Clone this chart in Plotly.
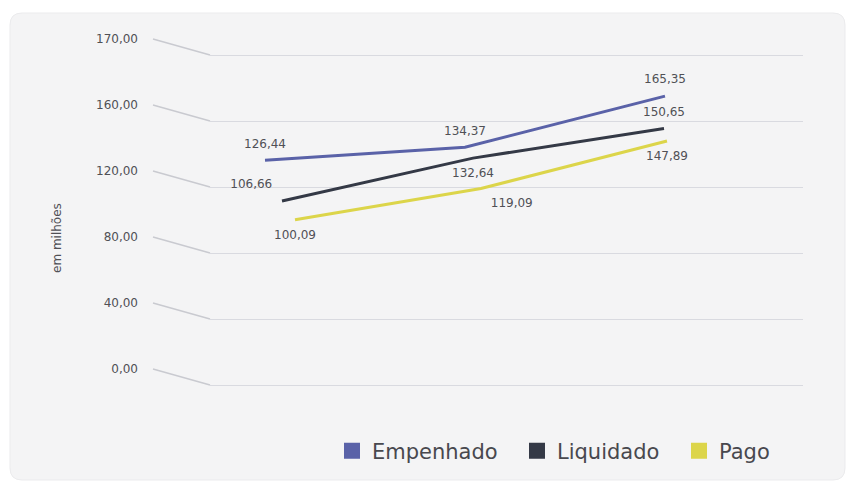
import plotly.graph_objects as go

# ---- data ----
categories = ["1", "2", "3"]
empenhado = [126.44, 134.37, 165.35]
liquidado = [106.66, 132.64, 150.65]
pago = [100.09, 119.09, 147.89]
series_names = ["Empenhado", "Liquidado", "Pago"]
tick_values = [0, 40, 80, 120, 160, 200]
tick_labels = ["0,00", "40,00", "80,00", "120,00", "160,00", "170,00"]
y_title = "em milhões"

# ---- style / layout ----
W, H = 855, 484
OFF = 8  # page body margin
colors = ["#5a62a8", "#343946", "#dcd54a"]
FONT = "DejaVu Sans"
TXT = "#505055"

# back wall pixel geometry (screen pixels)
wall_bottom_px, wall_top_px = 385, 55
wall_left_px, wall_right_px = 210, 803
front_px = 153
depth_px = [16, 8, 0]            # 3D depth of each series (front -> back)
first_px = [265, 282, 295]       # x pixel of first category per series
last_px = [665, 664, 667]        # x pixel of last category per series
pad = 4
yrange = [tick_values[0] - pad, tick_values[-1] + pad]
px_per_unit = (wall_bottom_px - wall_top_px) / (tick_values[-1] - tick_values[0])


def fx(px):
    return (px - OFF) / W


def fy(px):
    return (H - (px - OFF)) / H


def ydom(shift):
    b = wall_bottom_px - shift + pad * px_per_unit
    t = wall_top_px - shift - pad * px_per_unit
    return [fy(b), fy(t)]


def py(v, shift=0):
    return fy(wall_bottom_px - shift - (v - tick_values[0]) * px_per_unit)


positions = [["top center"] * 3,
             ["top left", "bottom center", "top center"],
             ["bottom center", "bottom right", "bottom center"]]

fig = go.Figure()
values = [empenhado, liquidado, pago]
layout_axes = {}
for i, (name, vals) in enumerate(zip(series_names, values)):
    k = i + 2
    ppu = (last_px[i] - first_px[i]) / 2
    d0 = fx(first_px[i] - 0.5 * ppu)
    d1 = fx(last_px[i] + 0.5 * ppu)
    layout_axes[f"xaxis{k}"] = dict(domain=[d0, d1], range=[-0.5, 2.5], visible=False,
                                    anchor=f"y{k}", automargin=False)
    yax = dict(domain=ydom(depth_px[i]), range=yrange, anchor=f"x{k}",
               showgrid=False, zeroline=False, showline=False, automargin=False)
    if i == 0:
        yax.update(tickvals=tick_values, ticktext=tick_labels, ticks="",
                   tickfont=dict(family=FONT, size=12, color=TXT),
                   anchor="free", position=fx(138), showticklabels=True)
    else:
        yax.update(showticklabels=False)
    layout_axes[f"yaxis{k}"] = yax
    fig.add_trace(go.Scatter(
        x=[0, 1, 2], y=vals, mode="lines+markers+text",
        text=[f"{v:.2f}".replace(".", ",") for v in vals],
        textposition=positions[i],
        textfont=dict(family=FONT, size=12, color=TXT),
        line=dict(color=colors[i], width=3),
        marker=dict(size=14, opacity=0, color=colors[i]),
        xaxis=f"x{k}", yaxis=f"y{k}", showlegend=False, cliponaxis=False,
        hoverinfo="skip"))

# legend entries (one legend per entry so each can be placed)
legend_x_px = [353, 538, 700]
legend_y_px = 451
legend_keys = ["legend", "legend2", "legend3"]
legends = {}
for i, name in enumerate(series_names):
    fig.add_trace(go.Scatter(x=[None], y=[None], mode="markers", name=name,
                             marker=dict(symbol="square", size=16, color=colors[i]),
                             xaxis="x", yaxis="y", legend=legend_keys[i]))
    legends[legend_keys[i]] = dict(
        orientation="h", xanchor="left", yanchor="middle",
        x=fx(legend_x_px[i] - 21), y=fy(legend_y_px),
        bgcolor="rgba(0,0,0,0)", borderwidth=0,
        font=dict(family=FONT, size=21, color="#48484e"), itemclick=False)

# rounded card
cx0, cx1, cy0, cy1, r = fx(10), fx(845), fy(480), fy(13), 12
rx, ry = r / W, r / H
card_path = (f"M {cx0 + rx},{cy1} L {cx1 - rx},{cy1} Q {cx1},{cy1} {cx1},{cy1 - ry} "
             f"L {cx1},{cy0 + ry} Q {cx1},{cy0} {cx1 - rx},{cy0} "
             f"L {cx0 + rx},{cy0} Q {cx0},{cy0} {cx0},{cy0 + ry} "
             f"L {cx0},{cy1 - ry} Q {cx0},{cy1} {cx0 + rx},{cy1} Z")
shapes = [dict(type="path", xref="paper", yref="paper", path=card_path,
               fillcolor="#f4f4f5", line=dict(color="#ebebed", width=1), layer="below")]
for t in tick_values:
    shapes.append(dict(type="line", xref="paper", yref="paper",
                       x0=fx(front_px), x1=fx(wall_left_px),
                       y0=py(t, depth_px[0]), y1=py(t),
                       line=dict(color="#c9cad0", width=1.3), layer="below"))

fig.update_layout(
    width=W, height=H, margin=dict(l=0, r=0, t=0, b=0, autoexpand=False),
    paper_bgcolor="white", plot_bgcolor="rgba(0,0,0,0)",
    xaxis=dict(domain=[fx(wall_left_px), fx(wall_right_px)], range=[0, 1], visible=False,
               automargin=False),
    yaxis=dict(domain=ydom(0), range=yrange, tickvals=tick_values, showticklabels=False,
               showgrid=True, gridcolor="#d9dae0", gridwidth=1.3, zeroline=False, ticks="",
               automargin=False),
    shapes=shapes,
    annotations=[dict(text=y_title, xref="paper", yref="paper", x=fx(57), y=fy(238),
                      xanchor="center", yanchor="middle",
                      textangle=-90, showarrow=False,
                      font=dict(family=FONT, size=12, color=TXT))],
    showlegend=True,
    **legends,
    **layout_axes,
)

fig.write_html("out.html")
